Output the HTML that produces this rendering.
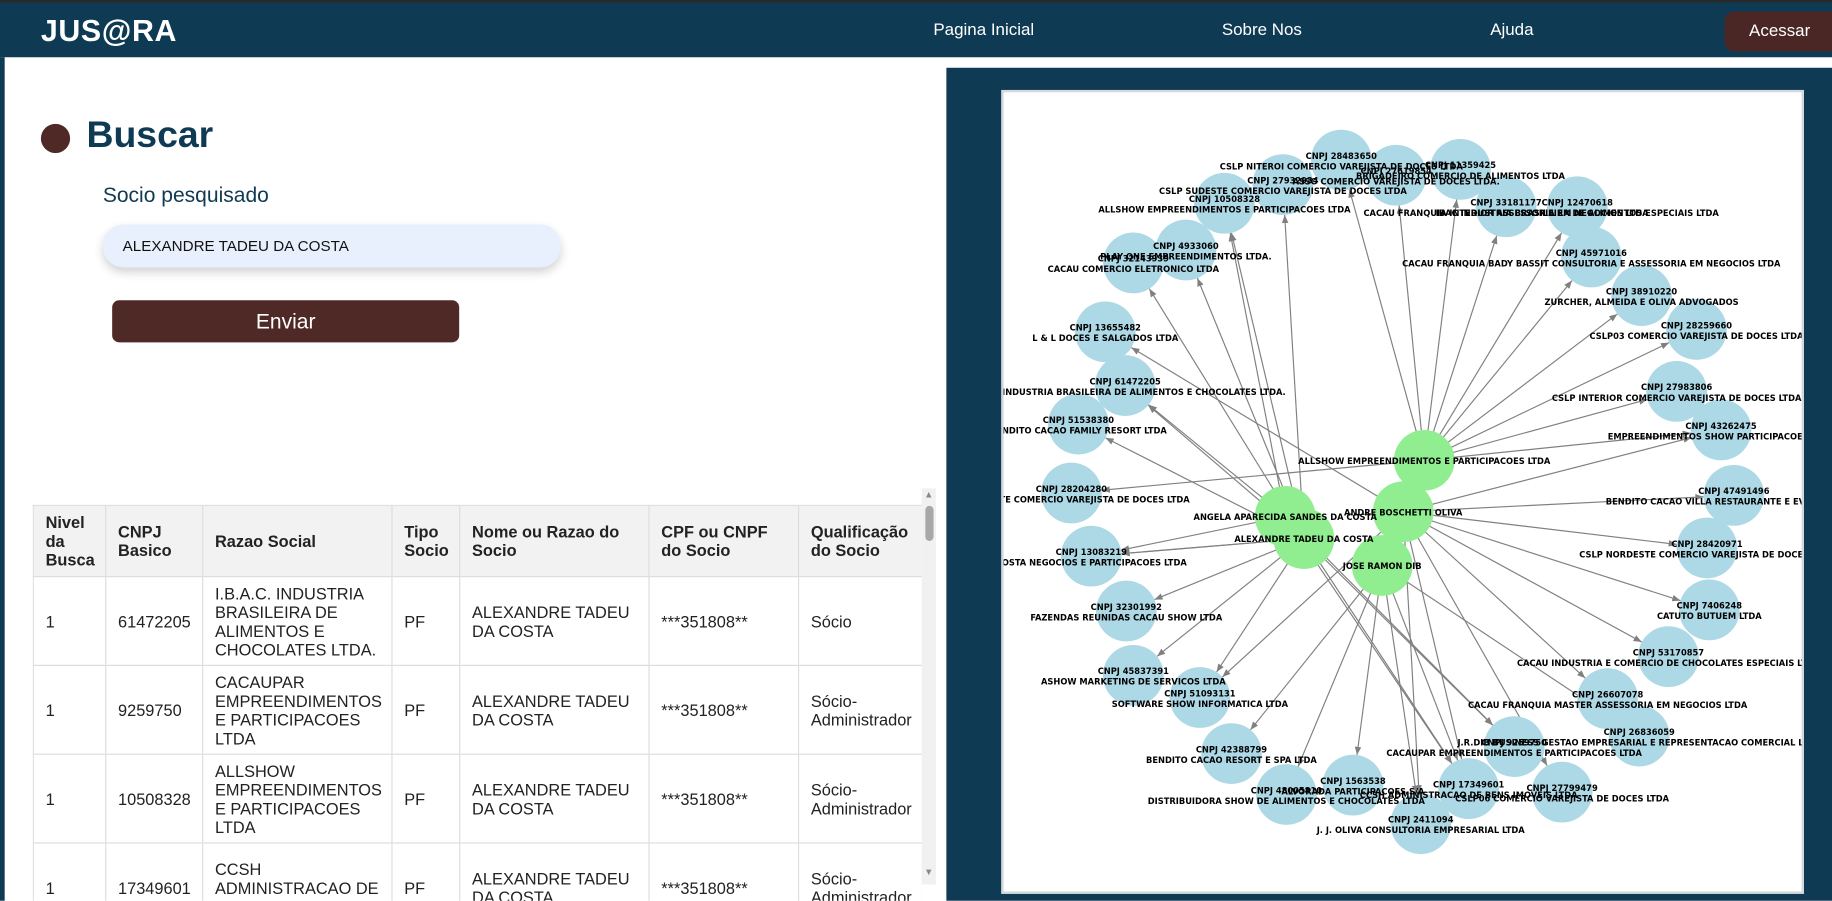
<!DOCTYPE html>
<html><head><meta charset="utf-8">
<style>
html,body{margin:0;padding:0;width:1832px;height:901px;overflow:hidden;background:#fff;font-family:"Liberation Sans",Arial,sans-serif;}
#root{position:absolute;left:0;top:0;width:1568px;height:771px;transform:scale(1.16837);transform-origin:0 0;overflow:hidden;background:#fff;}
.hdr{position:absolute;left:0;top:0;width:1568px;height:49px;background:#0e3a53;border-top:2px solid #2a2a2a;box-sizing:border-box;}
.logo{position:absolute;left:35px;top:9px;color:#fff;font-weight:bold;font-size:26px;letter-spacing:0.5px;}
.nav{position:absolute;top:16px;color:#fff;font-size:14.5px;transform:translateX(-50%);white-space:nowrap;}
.acc{position:absolute;left:1476px;top:8px;width:100px;height:34px;background:#4a2624;border-radius:8px;color:#fff;font-size:14.5px;line-height:34px;padding-left:21px;box-sizing:border-box;}
.leftbar{position:absolute;left:0;top:49px;width:4px;height:722px;background:#0e3a53;}
.dot{position:absolute;left:35px;top:106px;width:25px;height:25px;border-radius:50%;background:#4f2926;}
.title{position:absolute;left:74px;top:97px;font-size:32px;font-weight:bold;color:#0e3a53;}
.lbl{position:absolute;left:88px;top:157px;font-size:18px;color:#0e3a53;}
.inp{position:absolute;left:88px;top:192px;width:392px;height:37px;background:#e8f0fe;border-radius:18px;box-shadow:0 4px 8px rgba(0,0,0,0.18);font-size:13px;line-height:37px;padding-left:17px;box-sizing:border-box;color:#111;}
.btn{position:absolute;left:96px;top:257px;width:297px;height:36px;background:#4f2926;border-radius:6px;color:#fff;font-size:18px;line-height:36px;text-align:center;}
.tablewrap{position:absolute;left:28px;top:432px;width:761px;height:339px;overflow:hidden;}
table{border-collapse:collapse;font-size:14px;color:#222;width:761px;table-layout:fixed;}
th,td{border:1px solid #ddd;padding:0 10px;text-align:left;vertical-align:middle;line-height:16px;}
th{background:#f2f2f2;height:60px;font-weight:bold;}
td{height:75px;}
.sb{position:absolute;left:789px;top:418px;width:12px;height:339px;background:#f1f1f1;}
.sbthumb{position:absolute;left:792px;top:433px;width:7px;height:30px;background:#a8a8a8;border-radius:4px;}
.panel{position:absolute;left:810px;top:58px;width:758px;height:713px;background:#0e3a53;}
.box{position:absolute;left:857px;top:77px;width:687px;height:688px;background:#fff;border:2px solid #d4d8dc;box-sizing:border-box;}
svg text{font-family:"DejaVu Sans Condensed","DejaVu Sans",sans-serif;font-weight:bold;font-size:7.9px;fill:#000;text-anchor:middle;}
</style></head>
<body>
<div id="root">
  <div class="hdr">
    <div class="logo">JUS@RA</div>
    <div class="nav" style="left:842px">Pagina Inicial</div>
    <div class="nav" style="left:1080px">Sobre Nos</div>
    <div class="nav" style="left:1294px">Ajuda</div>
    <div class="acc">Acessar</div>
  </div>
  <div class="leftbar"></div>
  <div class="dot"></div>
  <div class="title">Buscar</div>
  <div class="lbl">Socio pesquisado</div>
  <div class="inp">ALEXANDRE TADEU DA COSTA</div>
  <div class="btn">Enviar</div>

  <div class="tablewrap">
  <table>
    <colgroup><col style="width:62px"><col style="width:83px"><col style="width:162px"><col style="width:58px"><col style="width:162px"><col style="width:128px"><col style="width:106px"></colgroup>
    <tr>
      <th>Nivel da Busca</th>
      <th>CNPJ Basico</th>
      <th>Razao Social</th>
      <th>Tipo Socio</th>
      <th>Nome ou Razao do Socio</th>
      <th>CPF ou CNPF do Socio</th>
      <th>Qualificação do Socio</th>
    </tr>
    <tr><td>1</td><td>61472205</td><td>I.B.A.C. INDUSTRIA BRASILEIRA DE ALIMENTOS E CHOCOLATES LTDA.</td><td>PF</td><td>ALEXANDRE TADEU DA COSTA</td><td>***351808**</td><td>Sócio</td></tr>
    <tr><td>1</td><td>9259750</td><td>CACAUPAR EMPREENDIMENTOS E PARTICIPACOES LTDA</td><td>PF</td><td>ALEXANDRE TADEU DA COSTA</td><td>***351808**</td><td>Sócio-Administrador</td></tr>
    <tr><td>1</td><td>10508328</td><td>ALLSHOW EMPREENDIMENTOS E PARTICIPACOES LTDA</td><td>PF</td><td>ALEXANDRE TADEU DA COSTA</td><td>***351808**</td><td>Sócio-Administrador</td></tr>
    <tr><td>1</td><td>17349601</td><td>CCSH ADMINISTRACAO DE BENS IMOVEIS LTDA</td><td>PF</td><td>ALEXANDRE TADEU DA COSTA</td><td>***351808**</td><td>Sócio-Administrador</td></tr>
  </table>
  </div>
  <div class="sb"></div>
  <div class="sbthumb"></div>
  <div style="position:absolute;left:791px;top:419px;font-size:8px;color:#888">▲</div>
  <div style="position:absolute;left:791px;top:742px;font-size:8px;color:#888">▼</div>

  <div class="panel"></div>
  <div class="box"></div>
  <svg id="g" width="1568" height="771" style="position:absolute;left:0;top:0">
    <defs>
      <clipPath id="cp"><rect x="859" y="79" width="683" height="684"/></clipPath>
      <marker id="ah" viewBox="0 0 10 10" refX="10" refY="5" markerWidth="7" markerHeight="7" orient="auto"><path d="M0,1 L10,5 L0,9 z" fill="#808080"/></marker>
    </defs>
    <g id="gc" clip-path="url(#cp)"></g>
  </svg>
</div>
<script>
const nodeIds = ["a","b","c","d","e","f","g","h","i","j","k","l","m","n","o","p","q","s","t","y","z","aa","bb","cc","dd","ee","ff","gg","hh","ii","jj","kk","ll","mm","nn","AL","AN","AB","AT","JR"];
const nodeTitles = {a:"CNPJ 28483650",b:"CNPJ 27932934",c:"CNPJ 27619854",d:"CNPJ 11359425",e:"CNPJ 10508328",f:"CNPJ 33181177",g:"CNPJ 12470618",h:"CNPJ 4933060",i:"CNPJ 32143939",j:"CNPJ 45971016",k:"CNPJ 38910220",l:"CNPJ 13655482",m:"CNPJ 28259660",n:"CNPJ 61472205",o:"CNPJ 27983806",p:"CNPJ 51538380",q:"CNPJ 43262475",s:"CNPJ 28204280",t:"CNPJ 47491496",y:"CNPJ 28420971",z:"CNPJ 13083219",aa:"CNPJ 32301992",bb:"CNPJ 7406248",cc:"CNPJ 53170857",dd:"CNPJ 45837391",ee:"CNPJ 51093131",ff:"CNPJ 26607078",gg:"CNPJ 26836059",hh:"CNPJ 9259750",ii:"CNPJ 42388799",jj:"CNPJ 1563538",kk:"CNPJ 48005810",ll:"CNPJ 17349601",mm:"CNPJ 27799479",nn:"CNPJ 2411094",AL:"",AN:"",AB:"",AT:"",JR:""};
const nodeNames = {a:"CSLP NITEROI COMERCIO VAREJISTA DE DOCES LTDA",b:"CSLP SUDESTE COMERCIO VAREJISTA DE DOCES LTDA",c:"ASSO COMERCIO VAREJISTA DE DOCES LTDA.",d:"BRIGADEIRO COMERCIO DE ALIMENTOS LTDA",e:"ALLSHOW EMPREENDIMENTOS E PARTICIPACOES LTDA",f:"CACAU FRANQUIA INTERIOR ASSESSORIA EM NEGOCIOS LTDA",g:"IBAC INDUSTRIA BRASILEIRA DE ALIMENTOS ESPECIAIS LTDA",h:"PLAY ONE EMPREENDIMENTOS LTDA.",i:"CACAU COMERCIO ELETRONICO LTDA",j:"CACAU FRANQUIA BADY BASSIT CONSULTORIA E ASSESSORIA EM NEGOCIOS LTDA",k:"ZURCHER, ALMEIDA E OLIVA ADVOGADOS",l:"L & L DOCES E SALGADOS LTDA",m:"CSLP03 COMERCIO VAREJISTA DE DOCES LTDA",n:"I.B.A.C. INDUSTRIA BRASILEIRA DE ALIMENTOS E CHOCOLATES LTDA.",o:"CSLP INTERIOR COMERCIO VAREJISTA DE DOCES LTDA",p:"BENDITO CACAO FAMILY RESORT LTDA",q:"EMPREENDIMENTOS SHOW PARTICIPACOES LTDA",s:"CSLP NORTE COMERCIO VAREJISTA DE DOCES LTDA",t:"BENDITO CACAO VILLA RESTAURANTE E EVENTOS LTDA",y:"CSLP NORDESTE COMERCIO VAREJISTA DE DOCES LTDA",z:"COSTA NEGOCIOS E PARTICIPACOES LTDA",aa:"FAZENDAS REUNIDAS CACAU SHOW LTDA",bb:"CATUTO BUTUEM LTDA",cc:"CACAU INDUSTRIA E COMERCIO DE CHOCOLATES ESPECIAIS LTDA",dd:"ASHOW MARKETING DE SERVICOS LTDA",ee:"SOFTWARE SHOW INFORMATICA LTDA",ff:"CACAU FRANQUIA MASTER ASSESSORIA EM NEGOCIOS LTDA",gg:"J.R.DIB BUSINESS GESTAO EMPRESARIAL E REPRESENTACAO COMERCIAL LTDA",hh:"CACAUPAR EMPREENDIMENTOS E PARTICIPACOES LTDA",ii:"BENDITO CACAO RESORT E SPA LTDA",jj:"ALVORADA PARTICIPACOES S/A",kk:"DISTRIBUIDORA SHOW DE ALIMENTOS E CHOCOLATES LTDA",ll:"CCSH ADMINISTRACAO DE BENS IMOVEIS LTDA",mm:"CSLP06 COMERCIO VAREJISTA DE DOCES LTDA",nn:"J. J. OLIVA CONSULTORIA EMPRESARIAL LTDA",AL:"ALLSHOW EMPREENDIMENTOS E PARTICIPACOES LTDA",AN:"ANGELA APARECIDA SANDES DA COSTA",AB:"ANDRE BOSCHETTI OLIVA",AT:"ALEXANDRE TADEU DA COSTA",JR:"JOSE RAMON DIB"};
const greenIds = ["AL","AN","AB","AT","JR"];
// layout positions (display px)
const layoutX = {a:1148,b:1098,c:1195,d:1250,e:1048,f:1289,g:1350,h:1015,i:970,j:1362,k:1405,l:946,m:1452,n:963,o:1435,p:923,q:1473,s:917,t:1484,y:1461,z:934,aa:964,bb:1463,cc:1428,dd:970,ee:1027,ff:1376,gg:1403,hh:1296,ii:1054,jj:1158,kk:1101,ll:1257,mm:1337,nn:1216,AL:1219,AN:1100,AB:1201,AT:1116,JR:1183};
const layoutY = {a:137,b:158,c:150,d:145,e:174,f:177,g:177,h:214,i:225,j:220,k:253,l:284,m:282,n:330,o:335,p:363,q:368,s:422,t:424,y:469,z:476,aa:523,bb:522,cc:562,dd:578,ee:597,ff:598,gg:630,hh:639,ii:645,jj:672,kk:680,ll:675,mm:678,nn:705,AL:394,AN:442,AB:438,AT:461,JR:484};
const edgeSources = ["AL","AL","AL","AL","AL","AL","AL","AL","AL","AL","AL","AT","AT","AT","AT","AT","AT","AT","AT","AT","AT","AT","AT","AN","AN","AN","AN","AN","AB","AB","AB","AB","AB","AB","AB","AB","AB","AB","JR","JR","JR","JR","JR","JR","AB","AT"];
const edgeTargets = ["a","c","d","f","g","j","k","m","o","s","q","n","i","h","e","b","z","aa","dd","p","ll","hh","ee","n","e","z","hh","ll","q","t","y","bb","cc","ff","ee","nn","mm","ll","gg","jj","ii","kk","nn","ll","l","z"];
const R = 26;
const NS = "http://www.w3.org/2000/svg";
const gc = document.getElementById("gc");
for (let k = 0; k < edgeSources.length; k++) {
  const s = edgeSources[k], t = edgeTargets[k];
  const x1 = layoutX[s], y1 = layoutY[s], x2 = layoutX[t], y2 = layoutY[t];
  const dx = x2 - x1, dy = y2 - y1, L = Math.hypot(dx, dy) || 1;
  const ln = document.createElementNS(NS, "line");
  ln.setAttribute("x1", x1); ln.setAttribute("y1", y1);
  ln.setAttribute("x2", x2 - dx / L * R); ln.setAttribute("y2", y2 - dy / L * R);
  ln.setAttribute("stroke", "#808080"); ln.setAttribute("stroke-width", "1");
  ln.setAttribute("marker-end", "url(#ah)");
  
  
  gc.appendChild(ln);
}
const order = nodeIds.filter(id => !greenIds.includes(id)).concat(greenIds);
for (const id of order) {
  const c = document.createElementNS(NS, "circle");
  c.setAttribute("cx", layoutX[id]); c.setAttribute("cy", layoutY[id]); c.setAttribute("r", R);
  c.setAttribute("fill", greenIds.includes(id) ? "#90ee90" : "#add8e6");
  
  
  gc.appendChild(c);
}
for (const id of order) {
  const x = layoutX[id], y = layoutY[id];
  if (nodeTitles[id]) {
    const t1 = document.createElementNS(NS, "text");
    t1.setAttribute("x", x); t1.setAttribute("y", y - 1);
    t1.textContent = nodeTitles[id];
    
    
    gc.appendChild(t1);
    const t2 = document.createElementNS(NS, "text");
    t2.setAttribute("x", x); t2.setAttribute("y", y + 8);
    t2.textContent = nodeNames[id];
    
    
    gc.appendChild(t2);
  } else {
    const t2 = document.createElementNS(NS, "text");
    t2.setAttribute("x", x); t2.setAttribute("y", y + 3);
    t2.textContent = nodeNames[id];
    
    
    gc.appendChild(t2);
  }
}
</script>
</body></html>
